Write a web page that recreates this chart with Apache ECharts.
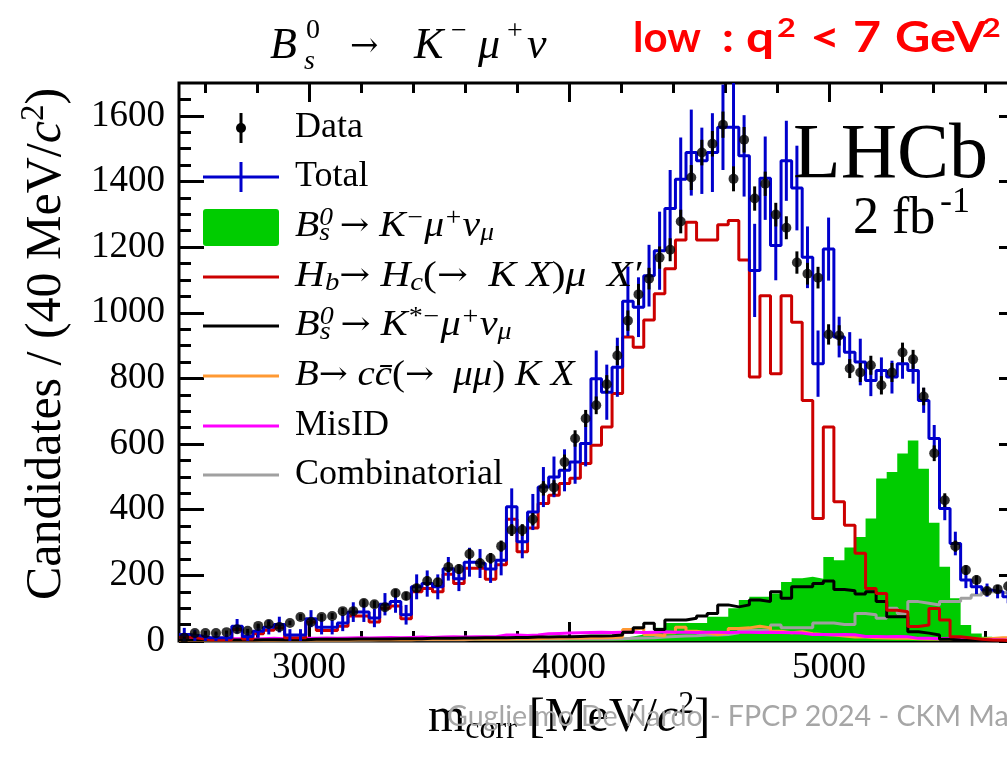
<!DOCTYPE html>
<html>
<head>
<meta charset="utf-8">
<script src="https://cdn.jsdelivr.net/npm/echarts@6/dist/echarts.min.js"></script>
<style>
html,body{margin:0;padding:0;background:#fff;}
#chart{width:1007px;height:757px;}
</style>
</head>
<body>
<div id="chart"></div>
<script>
// Corrected-mass histogram, 80 bins between xMin and xMax
const xMin = 2500, xMax = 5750, nBins = 80;
const yMin = 0, yMax = 1700;

const xMajorTicks = [3000, 4000, 5000];
const xMinorTicks = [2600, 2800, 3200, 3400, 3600, 3800, 4200, 4400, 4600, 4800, 5200, 5400, 5600];
const yMajorTicks = [0, 200, 400, 600, 800, 1000, 1200, 1400, 1600];
const yMinorTicks = [50, 100, 150, 250, 300, 350, 450, 500, 550, 650, 700, 750, 850, 900, 950,
  1050, 1100, 1150, 1250, 1300, 1350, 1450, 1500, 1550, 1650];

// Observed candidates per bin and their uncertainties
const dataCounts = [10, 24, 24, 24, 27, 36, 31, 46, 52, 43, 55, 73, 58, 73, 76, 91, 91, 116, 112, 103,
  146, 137, 161, 183, 179, 225, 219, 265, 237, 252, 289, 338, 338, 371, 465, 468, 545, 617, 678, 718,
  782, 870, 976, 1056, 1104, 1168, 1192, 1278, 1412, 1488, 1515, 1573, 1408, 1527, 1348, 1393, 1299, 1259, 1153, 1119,
  1107, 934, 931, 830, 818, 840, 779, 818, 879, 858, 745, 572, 429, 289, 216, 186, 152, 158, 167, 160];
const dataErrors = [3, 5, 5, 5, 5, 6, 6, 7, 7, 7, 7, 9, 8, 9, 9, 10, 10, 11, 11, 10,
  12, 12, 13, 14, 13, 15, 15, 16, 15, 16, 17, 18, 18, 19, 22, 22, 23, 25, 26, 27,
  28, 29, 31, 32, 33, 34, 35, 36, 38, 39, 39, 40, 38, 39, 37, 37, 36, 35, 34, 33,
  33, 31, 31, 29, 29, 29, 28, 29, 30, 29, 27, 24, 21, 17, 15, 14, 12, 13, 13, 13];

// Fit model: total and its uncertainty
const totalFit = [20, 16, 10, 10, 10, 45, 14, 30, 42, 50, 18, 18, 68, 42, 42, 55, 88, 88, 70, 112,
  120, 80, 165, 175, 165, 220, 190, 240, 236, 219, 246, 409, 302, 393, 469, 500, 520, 545, 602, 799,
  758, 834, 1035, 1017, 1113, 1189, 1318, 1407, 1488, 1463, 1488, 1565, 1565, 1478, 1129, 1410, 1205, 1463, 1380, 1169,
  845, 1194, 926, 880, 850, 794, 824, 804, 845, 824, 733, 617, 404, 297, 186, 165, 155, 150, 135, 135];
const totalErrors = [20, 18, 14, 14, 14, 22, 15, 20, 22, 24, 18, 18, 26, 22, 22, 25, 30, 30, 28, 34,
  34, 30, 38, 40, 38, 36, 38, 44, 44, 42, 46, 56, 50, 55, 61, 62, 64, 66, 70, 86,
  84, 90, 106, 91, 94, 119, 117, 127, 131, 101, 120, 130, 162, 124, 142, 127, 106, 122, 129, 94,
  101, 96, 62, 61, 71, 48, 40, 50, 46, 40, 38, 41, 36, 36, 25, 22, 20, 20, 20, 20];

// Fit components
const signalKmunu = [0, 0, 0, 0, 0, 0, 0, 0, 0, 0, 0, 0, 0, 1, 1, 1, 1, 1, 1, 1,
  1, 1, 2, 2, 2, 2, 2, 2, 3, 3, 3, 3, 3, 4, 4, 4, 4, 5, 5, 5,
  6, 9, 14, 20, 25, 40, 55, 55, 55, 55, 74, 74, 100, 125, 135, 135, 145, 180, 191, 196,
  190, 256, 246, 285, 317, 373, 495, 515, 571, 611, 525, 360, 226, 130, 49, 23, 13, 5, 3, 2];
const hbToHc = [12, 8, 4, 4, 4, 35, 6, 22, 33, 40, 10, 10, 58, 32, 32, 45, 76, 76, 58, 100,
  107, 68, 150, 160, 150, 203, 175, 222, 222, 188, 232, 371, 272, 344, 419, 444, 480, 496, 541, 596,
  652, 754, 926, 895, 978, 1058, 1134, 1222, 1276, 1222, 1222, 1268, 1281, 1161, 804, 1052, 814, 1052, 971, 733,
  373, 652, 424, 353, 267, 160, 145, 94, 89, 44, 49, 99, 64, 13, 9, 5, 3, 2, 1, 1];
const kstarMunu = [3, 3, 3, 3, 3, 3, 3, 4, 4, 4, 4, 4, 5, 5, 5, 5, 6, 6, 6, 6,
  7, 7, 7, 8, 8, 8, 9, 9, 10, 10, 10, 11, 11, 12, 12, 13, 13, 14, 15, 15,
  16, 18, 27, 40, 54, 35, 64, 64, 69, 76, 84, 110, 104, 110, 125, 120, 150, 130, 165, 165,
  175, 183, 157, 153, 143, 150, 120, 74, 74, 28, 24, 18, 5, 3, 2, 2, 1, 1, 1, 1];
const charmonium = [2, 2, 2, 2, 2, 2, 2, 2, 2, 3, 3, 3, 3, 3, 3, 3, 4, 4, 4, 4,
  4, 4, 5, 5, 5, 5, 5, 6, 6, 6, 6, 7, 7, 7, 8, 8, 9, 9, 10, 10,
  11, 12, 35, 40, 20, 15, 25, 42, 30, 25, 20, 25, 38, 40, 45, 40, 30, 25, 28, 22,
  20, 18, 15, 12, 12, 10, 9, 8, 8, 7, 6, 6, 5, 5, 5, 6, 8, 10, 10, 10];
const misID = [6, 6, 7, 6, 7, 7, 6, 7, 8, 7, 7, 8, 8, 9, 8, 9, 10, 9, 10, 11,
  10, 11, 12, 11, 12, 13, 12, 13, 13, 13, 18, 18, 17, 18, 22, 23, 24, 25, 26, 27,
  26, 27, 27, 26, 27, 28, 27, 27, 26, 27, 27, 26, 27, 27, 26, 27, 26, 25, 24, 20,
  20, 19, 20, 19, 14, 14, 13, 14, 13, 8, 8, 7, 8, 7, 6, 4, 4, 3, 3, 3];
const combinatorial = [3, 3, 3, 3, 3, 3, 3, 3, 3, 3, 3, 3, 3, 3, 3, 3, 3, 3, 4, 4,
  4, 4, 4, 4, 4, 4, 4, 5, 5, 5, 5, 5, 5, 5, 5, 5, 6, 6, 6, 6,
  6, 7, 8, 9, 10, 12, 14, 15, 16, 18, 18, 20, 25, 33, 33, 33, 49, 40, 40, 40,
  55, 55, 50, 50, 84, 80, 69, 100, 84, 120, 115, 110, 120, 120, 130, 140, 150, 148, 145, 150];

const binWidth = (xMax - xMin) / nBins;
const edges = Array.from({ length: nBins + 1 }, (_, i) => xMin + i * binWidth);
const centers = Array.from({ length: nBins }, (_, i) => xMin + (i + 0.5) * binWidth);

const SERIF = "'Liberation Serif', 'Times New Roman', serif";
const ARROW = "'DejaVu Serif', serif";
const COL = {
  total: '#0000cc', signal: '#00cc00', hb: '#cc0000', kstar: '#000000',
  ccbar: '#ff9933', misid: '#ff00ff', comb: '#a0a0a0'
};

// Points at the left edge of each bin plus the closing right edge -> drawn as a step histogram
function histPoints(vals) {
  const pts = vals.map((v, i) => [edges[i], v]);
  pts.push([edges[nBins], vals[nBins - 1]]);
  return pts;
}

function histSeries(name, vals, color, z, filled) {
  const s = {
    name, type: 'line', step: 'end', data: histPoints(vals),
    symbol: 'none', showSymbol: false, z, silent: true, clip: true,
    lineStyle: { color, width: filled ? 0 : 3, opacity: filled ? 0 : 1 },
    itemStyle: { color }
  };
  if (filled) s.areaStyle = { color, opacity: 1 };
  return s;
}

function errorBarSeries(name, vals, errs, color, z) {
  return {
    name, type: 'custom', z, silent: true, clip: true,
    data: vals.map((v, i) => [centers[i], v, errs[i]]),
    encode: { x: 0, y: 1 },
    renderItem(params, api) {
      const x = api.value(0), v = api.value(1), e = api.value(2);
      const lo = api.coord([x, v - e]), hi = api.coord([x, v + e]);
      return {
        type: 'line',
        shape: { x1: lo[0], y1: lo[1], x2: hi[0], y2: hi[1] },
        style: { stroke: color, lineWidth: 3 }
      };
    }
  };
}

const plainNumber = (v) => String(v);

function xAxisDef(position, ticks, len, labels) {
  return {
    type: 'value', min: xMin, max: xMax, position,
    axisLine: { show: false, onZero: false },
    splitLine: { show: false },
    axisTick: { show: true, inside: true, length: len, customValues: ticks, lineStyle: { color: '#000', width: 3 } },
    axisLabel: labels ? { show: true, customValues: ticks, formatter: plainNumber, fontFamily: SERIF, fontSize: 37, color: '#000', margin: 9 } : { show: false }
  };
}
function yAxisDef(position, ticks, len, labels) {
  return {
    type: 'value', min: yMin, max: yMax, position,
    axisLine: { show: false, onZero: false },
    splitLine: { show: false },
    axisTick: { show: true, inside: true, length: len, customValues: ticks, lineStyle: { color: '#000', width: 3 } },
    axisLabel: labels ? { show: true, customValues: ticks, formatter: plainNumber, fontFamily: SERIF, fontSize: 37, color: '#000', margin: 14 } : { show: false }
  };
}

// ---- text helpers ----
function txt(x, y, text, opts) {
  const o = opts || {};
  return {
    type: 'text', x, y, z: 100, rotation: o.rotation || 0, scaleX: o.scaleX || 1, silent: true,
    style: {
      text, fill: o.fill || '#000',
      fontFamily: o.fontFamily || SERIF, fontSize: o.fontSize || 36,
      fontStyle: o.fontStyle || 'normal', fontWeight: o.fontWeight || 'normal',
      align: o.align || 'left', textAlign: o.align || 'left',
      verticalAlign: 'middle', textVerticalAlign: 'middle',
      rich: o.rich
    }
  };
}

const LEG = 36;
const legendRich = {
  i: { fontFamily: SERIF, fontStyle: 'italic', fontSize: LEG, lineHeight: 60 },
  r: { fontFamily: SERIF, fontSize: LEG, lineHeight: 60 },
  a: { fontFamily: ARROW, fontSize: 32, lineHeight: 60 },
  sp: { fontFamily: SERIF, fontStyle: 'italic', fontSize: 25, lineHeight: 60, padding: [0, 0, 18, 0] },
  spz: { fontFamily: SERIF, fontStyle: 'italic', fontSize: 25, lineHeight: 60, width: 0, padding: [0, 0, 18, 0] },
  sb: { fontFamily: SERIF, fontStyle: 'italic', fontSize: 25, lineHeight: 60, padding: [12, 0, 0, 0] }
};

const lx0 = 203, lx1 = 279, lxc = 241, ltx = 295;
const rowY = [128, 177, 227, 277, 326, 376, 426, 475];

const legendTexts = [
  '{r|Data}',
  '{r|Total}',
  '{i|B}{spz|0}{sb|s}{r| }{a|→}{r| }{i|K}{sp|−}{i|μ}{sp|+}{i|ν}{sb|μ}',
  '{i|H}{sb|b}{a|→}{r| }{i|H}{sb|c}{r|(}{a|→}{r|  }{i|K X}{r|)}{i|μ  X′}',
  '{i|B}{spz|0}{sb|s}{r| }{a|→}{r| }{i|K}{sp|*−}{i|μ}{sp|+}{i|ν}{sb|μ}',
  '{i|B}{a|→}{r| }{i|cc̄}{r|(}{a|→}{r|  }{i|μμ}{r|) }{i|K X}',
  '{r|MisID}',
  '{r|Combinatorial}'
];
const legendScaleX = [1, 1, 1.1, 1.15, 1.12, 1.08, 1, 1];

const legendGraphics = [
  // Data: marker with error bar
  { type: 'line', z: 100, shape: { x1: lxc, y1: rowY[0] - 15, x2: lxc, y2: rowY[0] + 15 }, style: { stroke: '#000', lineWidth: 3 } },
  { type: 'circle', z: 100, shape: { cx: lxc, cy: rowY[0], r: 5 }, style: { fill: '#000' } },
  // Total: line with vertical bar
  { type: 'line', z: 100, shape: { x1: lx0, y1: rowY[1], x2: lx1, y2: rowY[1] }, style: { stroke: COL.total, lineWidth: 3 } },
  { type: 'line', z: 100, shape: { x1: lxc, y1: rowY[1] - 15, x2: lxc, y2: rowY[1] + 15 }, style: { stroke: COL.total, lineWidth: 3 } },
  // Signal: filled box
  { type: 'rect', z: 100, shape: { x: lx0, y: rowY[2] - 18, width: lx1 - lx0, height: 37, r: 3 }, style: { fill: COL.signal } },
  { type: 'line', z: 100, shape: { x1: lx0, y1: rowY[3], x2: lx1, y2: rowY[3] }, style: { stroke: COL.hb, lineWidth: 3 } },
  { type: 'line', z: 100, shape: { x1: lx0, y1: rowY[4], x2: lx1, y2: rowY[4] }, style: { stroke: COL.kstar, lineWidth: 3 } },
  { type: 'line', z: 100, shape: { x1: lx0, y1: rowY[5], x2: lx1, y2: rowY[5] }, style: { stroke: COL.ccbar, lineWidth: 3 } },
  { type: 'line', z: 100, shape: { x1: lx0, y1: rowY[6], x2: lx1, y2: rowY[6] }, style: { stroke: COL.misid, lineWidth: 3 } },
  { type: 'line', z: 100, shape: { x1: lx0, y1: rowY[7], x2: lx1, y2: rowY[7] }, style: { stroke: COL.comb, lineWidth: 3 } }
].concat(legendTexts.map((t, k) => txt(ltx, rowY[k], t, { rich: legendRich, scaleX: legendScaleX[k] })));

// Title B_s^0 -> K- mu+ nu
const TI = 44, TS = 28;
const titleGraphics = [
  txt(270, 46, 'B', { fontStyle: 'italic', fontSize: TI }),
  txt(306, 31, '0', { fontSize: TS }),
  txt(304, 62, 's', { fontStyle: 'italic', fontSize: TS }),
  txt(350, 47, '→', { fontFamily: ARROW, fontSize: 34 }),
  txt(414, 46, 'K', { fontStyle: 'italic', fontSize: TI }),
  txt(451, 32, '−', { fontSize: TS }),
  txt(478, 46, 'μ', { fontStyle: 'italic', fontSize: TI }),
  txt(507, 32, '+', { fontSize: TS }),
  txt(527, 46, 'ν', { fontStyle: 'italic', fontSize: TI })
];

// q2 bin label
const RED = '#ff0000', SANS = "Lato, 'Open Sans', sans-serif";
const redOpts = (size, sx) => ({ fontFamily: SANS, fontWeight: 'bold', fontSize: size, fill: RED, scaleX: sx });
const qGraphics = [
  txt(633, 38, 'low', redOpts(42, 1)),
  txt(722, 38, ':', redOpts(42, 1.1)),
  txt(746, 38, 'q', redOpts(42, 1.18)),
  txt(777, 28, '2', redOpts(27, 1.2)),
  txt(810, 38, '<', redOpts(42, 1.25)),
  txt(853, 38, '7', redOpts(42, 1.15)),
  txt(895, 38, 'GeV', redOpts(42, 1.16)),
  txt(982, 28, '2', redOpts(27, 1.2))
];

const otherGraphics = [
  // Experiment label
  txt(793, 157, 'LHCb', { fontSize: 78 }),
  txt(853, 219, '2 fb', { fontSize: 52 }),
  txt(940, 203, '-1', { fontSize: 36 }),
  // Axis titles
  txt(47, 344, '{r|Candidates / (40 MeV/}{i|c}{sp|2}{r|)}', {
    rotation: Math.PI / 2, align: 'center',
    rich: {
      r: { fontFamily: SERIF, fontSize: 50, lineHeight: 70 },
      i: { fontFamily: SERIF, fontStyle: 'italic', fontSize: 50, lineHeight: 70 },
      sp: { fontFamily: SERIF, fontSize: 33, lineHeight: 70, padding: [0, 0, 26, 0] }
    }
  }),
  txt(428, 718, '{r|m}{sb|corr}{r| [MeV/}{i|c}{sp|2}{r|]}', {
    rich: {
      r: { fontFamily: SERIF, fontSize: 48, lineHeight: 70 },
      i: { fontFamily: SERIF, fontStyle: 'italic', fontSize: 48, lineHeight: 70 },
      sb: { fontFamily: SERIF, fontSize: 32, lineHeight: 70, padding: [24, 0, 0, 0] },
      sp: { fontFamily: SERIF, fontSize: 32, lineHeight: 70, padding: [0, 0, 26, 0] }
    }
  }),
  // Footer credit line
  Object.assign(txt(447, 717, 'Guglielmo De Nardo - FPCP 2024 - CKM Ma', { fontFamily: SANS, fontSize: 28.6, fill: '#a6a6a6' }), { z: 110 })
];

const chart = echarts.init(document.getElementById('chart'), null, { renderer: 'canvas' });
chart.setOption({
  animation: false,
  backgroundColor: '#ffffff',
  grid: {
    left: 179, top: 83, right: -17, bottom: 116,
    show: true, borderColor: '#000', borderWidth: 3, backgroundColor: 'transparent',
    containLabel: false, outerBoundsMode: 'none'
  },
  xAxis: [
    xAxisDef('bottom', xMajorTicks, 19, true),
    xAxisDef('top', xMajorTicks, 19, false),
    xAxisDef('bottom', xMinorTicks, 10, false),
    xAxisDef('top', xMinorTicks, 10, false)
  ],
  yAxis: [
    yAxisDef('left', yMajorTicks, 25, true),
    yAxisDef('right', yMajorTicks, 25, false),
    yAxisDef('left', yMinorTicks, 12, false),
    yAxisDef('right', yMinorTicks, 12, false)
  ],
  series: [
    histSeries('Bs0 -> K- mu+ nu', signalKmunu, COL.signal, 2, true),
    histSeries('Combinatorial', combinatorial, COL.comb, 3, false),
    histSeries('B -> ccbar K X', charmonium, COL.ccbar, 4, false),
    histSeries('MisID', misID, COL.misid, 5, false),
    histSeries('Bs0 -> K*- mu+ nu', kstarMunu, COL.kstar, 6, false),
    histSeries('Hb -> Hc mu X', hbToHc, COL.hb, 7, false),
    histSeries('Total', totalFit, COL.total, 8, false),
    errorBarSeries('Total uncertainty', totalFit, totalErrors, COL.total, 9),
    errorBarSeries('Data uncertainty', dataCounts, dataErrors, '#000', 10),
    {
      name: 'Data', type: 'scatter', z: 11, silent: true, clip: true,
      data: dataCounts.map((v, i) => [centers[i], v]),
      symbol: 'circle', symbolSize: 10, itemStyle: { color: '#000' }
    }
  ],
  graphic: { elements: legendGraphics.concat(titleGraphics, qGraphics, otherGraphics) }
});
</script>
</body>
</html>
